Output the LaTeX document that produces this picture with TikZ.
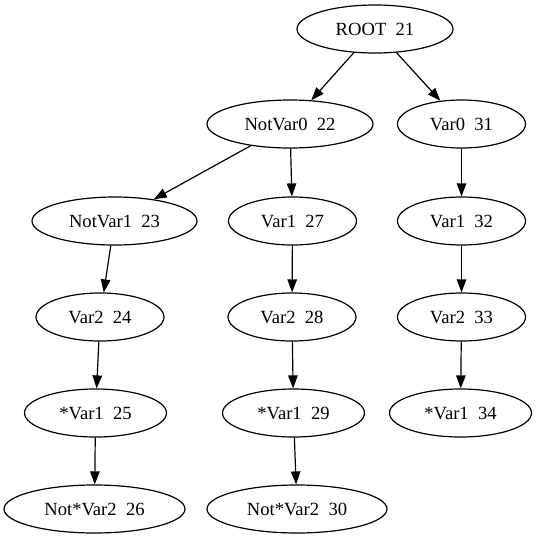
\documentclass[tikz,border=0pt]{standalone}
\usepackage{fontspec}
\setmainfont{Liberation Serif}
\usetikzlibrary{shapes.geometric,arrows.meta}
\begin{document}
\begin{tikzpicture}[x=1pt,y=-1pt,
  vnode/.style={draw,ellipse,line width=1.2pt,inner sep=0pt,minimum height=48pt,
    font=\fontsize{18.6}{21}\selectfont},
  edge/.style={draw,line width=1.2pt,-{Triangle[length=13pt,width=9.5pt]}}]
\useasboundingbox (0,0) rectangle (537,539);
\path[fill=white] (0,0) rectangle (537,539);
% tree nodes
\node[vnode,minimum width=156pt] (n21) at (375,29)    {ROOT\ \ 21};
\node[vnode,minimum width=166pt] (n22) at (290,124)   {NotVar0\ \ 22};
\node[vnode,minimum width=128pt] (n31) at (461.5,124) {Var0\ \ 31};
\node[vnode,minimum width=165pt] (n23) at (114.5,221) {NotVar1\ \ 23};
\node[vnode,minimum width=128pt] (n27) at (292.5,221) {Var1\ \ 27};
\node[vnode,minimum width=128pt] (n32) at (461.5,221) {Var1\ \ 32};
\node[vnode,minimum width=128pt] (n24) at (100,317)   {Var2\ \ 24};
\node[vnode,minimum width=128pt] (n28) at (292,317)   {Var2\ \ 28};
\node[vnode,minimum width=128pt] (n33) at (461.5,317) {Var2\ \ 33};
\node[vnode,minimum width=142pt] (n25) at (95.5,413)  {*Var1\ \ 25};
\node[vnode,minimum width=142pt] (n29) at (293.5,413) {*Var1\ \ 29};
\node[vnode,minimum width=142pt] (n34) at (460.5,413) {*Var1\ \ 34};
\node[vnode,minimum width=181pt] (n26) at (94.5,509)  {Not*Var2\ \ 26};
\node[vnode,minimum width=180pt] (n30) at (297,509)   {Not*Var2\ \ 30};
% parent -> child edges
\path[edge] (n21) -- (n22);
\path[edge] (n21) -- (n31);
\path[edge] (n22) -- (n23);
\path[edge] (n22) -- (n27);
\path[edge] (n31) -- (n32);
\path[edge] (n23) -- (n24);
\path[edge] (n27) -- (n28);
\path[edge] (n32) -- (n33);
\path[edge] (n24) -- (n25);
\path[edge] (n28) -- (n29);
\path[edge] (n33) -- (n34);
\path[edge] (n25) -- (n26);
\path[edge] (n29) -- (n30);
\end{tikzpicture}
\end{document}
